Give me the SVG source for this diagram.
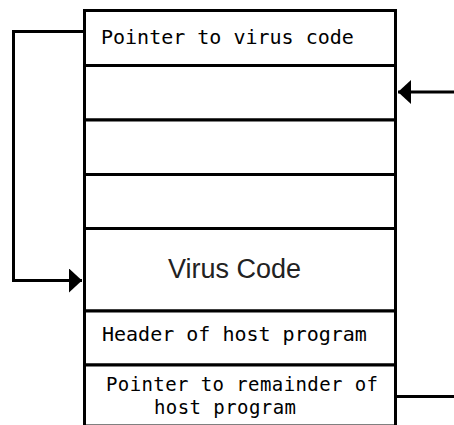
<svg xmlns="http://www.w3.org/2000/svg" width="454" height="425" viewBox="0 0 454 425">
  <style>
    .cell { fill: #ffffff; stroke: #000000; stroke-width: 3; }
    .mono { font-family: "DejaVu Sans Mono", "Liberation Mono", monospace; font-size: 20px; fill: #000000; }
    .mono-sm { font-family: "DejaVu Sans Mono", "Liberation Mono", monospace; font-size: 19px; fill: #000000; }
    .big { font-family: "Liberation Sans", Arial, sans-serif; font-size: 27px; fill: #222222; }
    .wire { fill: none; stroke: #000000; stroke-width: 3; }
  </style>
  <defs>
    <marker id="head" markerUnits="userSpaceOnUse" markerWidth="14" markerHeight="26" refX="13" refY="12" orient="auto" viewBox="0 0 14 26">
      <path d="M0,0 L13,12 L0,24 Z" fill="#000000"/>
    </marker>
  </defs>
  <rect width="454" height="425" fill="#ffffff"/>

  <!-- memory layout of the infected file, top to bottom -->
  <g id="cell-pointer-virus">
    <rect class="cell" x="84.5" y="10.5" width="311" height="55"/>
    <text class="mono" x="101" y="44">Pointer to virus code</text>
  </g>
  <g id="cell-2">
    <rect class="cell" x="84.5" y="65.5" width="311" height="54.5"/>
  </g>
  <g id="cell-3">
    <rect class="cell" x="84.5" y="120" width="311" height="54.5"/>
  </g>
  <g id="cell-4">
    <rect class="cell" x="84.5" y="174.5" width="311" height="54"/>
  </g>
  <g id="cell-virus-code">
    <rect class="cell" x="84.5" y="228.5" width="311" height="82.5"/>
    <text class="big" x="168" y="278">Virus Code</text>
  </g>
  <g id="cell-header">
    <rect class="cell" x="84.5" y="311" width="311" height="54"/>
    <text class="mono" x="102" y="341">Header of host program</text>
  </g>
  <g id="cell-pointer-remainder">
    <rect class="cell" x="84.5" y="365" width="311" height="61"/>
    <text class="mono-sm" x="106" y="391" textLength="272" lengthAdjust="spacing">Pointer to remainder of</text>
    <text class="mono-sm" x="154" y="413.5" textLength="142" lengthAdjust="spacing">host program</text>
  </g>

  <!-- connectors -->
  <g id="connectors">
    <path class="wire" d="M84.5,31.5 H13.5 V280.5 H82" marker-end="url(#head)"/>
    <path class="wire" d="M454,92 H398" marker-end="url(#head)"/>
    <path class="wire" d="M397,396.5 H454"/>
  </g>
</svg>
